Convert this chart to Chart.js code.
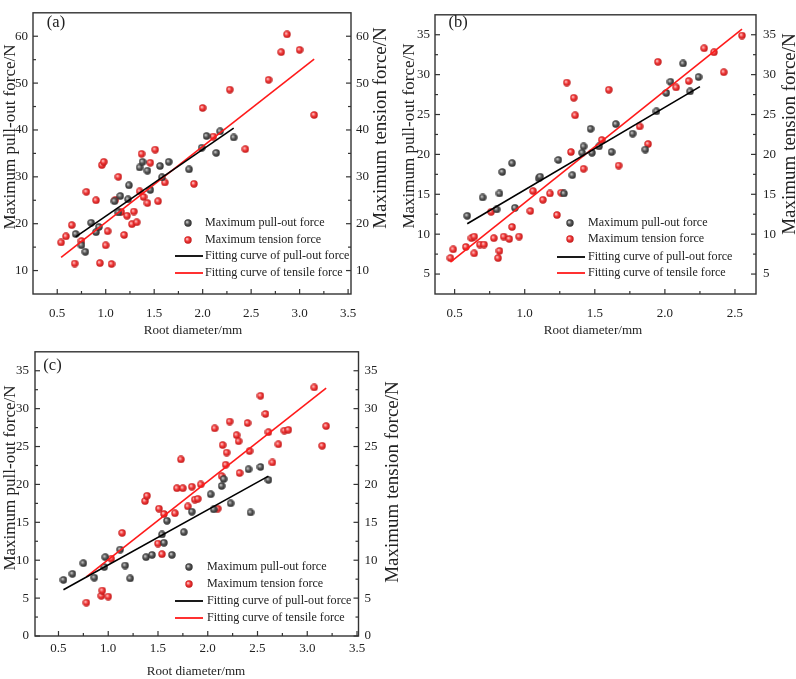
<!DOCTYPE html>
<html><head><meta charset="utf-8">
<script src="https://cdn.jsdelivr.net/npm/chart.js@4.4.0/dist/chart.umd.min.js"></script>
<style>
html,body{margin:0;padding:0;background:#fff;width:796px;height:679px;overflow:hidden}
canvas{position:absolute}
</style></head><body>
<canvas id="ca"></canvas>
<canvas id="cb"></canvas>
<canvas id="cc"></canvas>
<script>
// ---------- data ----------
const xTitle = 'Root diameter/mm';
const yTitleLeft = 'Maximum pull-out force/N';
const yTitleRight = 'Maximum tension force/N';
const legendLabels = ['Maximum pull-out force','Maximum tension force','Fitting curve of pull-out force','Fitting curve of tensile force'];

// panel (a)
const xTicksA = [0.5,1.0,1.5,2.0,2.5,3.0,3.5];
const yTicksA = [10,20,30,40,50,60];
const aPullD = [0.69,0.75,0.79,0.85,0.90,0.93,1.09,1.13,1.15,1.24,1.23,1.35,1.38,1.43,1.46,1.56,1.58,1.65,1.86,1.99,2.04,2.14,2.18,2.32];
const aPullF = [17.8,15.4,14.0,20.2,18.2,19.3,24.8,22.4,25.9,28.2,25.2,32.0,33.2,31.3,27.2,32.3,29.9,33.2,31.6,36.2,38.7,35.1,39.7,38.4];
const aTensD = [0.54,0.59,0.65,0.68,0.75,0.80,0.90,0.94,0.96,0.98,1.00,1.02,1.06,1.10,1.13,1.16,1.19,1.22,1.27,1.29,1.32,1.35,1.37,1.39,1.43,1.46,1.51,1.54,1.61,1.91,2.00,2.11,2.28,2.44,2.68,2.81,2.87,3.00,3.15];
const aTensF = [16.0,17.3,19.7,11.5,16.3,26.8,25.0,11.6,32.5,33.2,15.4,18.4,11.4,25.1,30.0,22.5,17.6,21.7,19.9,22.6,20.3,26.9,34.9,25.7,24.4,33.0,35.8,24.8,28.8,28.5,44.7,38.6,48.6,35.9,50.7,56.6,60.4,57.1,43.2];
const aFitPullD = [0.69,2.32], aFitPullF = [17.2,40.4];
const aFitTensD = [0.54,3.15], aFitTensF = [12.8,55.1];

// panel (b)
const xTicksB = [0.5,1.0,1.5,2.0,2.5];
const yTicksB = [5,10,15,20,25,30,35];
const bPullD = [0.59,0.70,0.80,0.82,0.84,0.91,0.93,1.10,1.11,1.24,1.28,1.34,1.41,1.42,1.47,1.48,1.53,1.62,1.65,1.77,1.86,1.94,2.01,2.04,2.13,2.18,2.24];
const bPullF = [12.3,14.6,13.1,15.1,17.8,18.9,13.3,17.0,17.2,19.3,15.1,17.4,20.2,21.0,23.2,20.2,21.0,20.3,23.8,22.6,20.6,25.4,27.7,29.1,31.4,27.9,29.7];
const bTensD = [0.47,0.49,0.58,0.62,0.64,0.64,0.68,0.71,0.76,0.78,0.81,0.82,0.85,0.89,0.91,0.96,1.04,1.06,1.13,1.18,1.23,1.26,1.30,1.33,1.35,1.36,1.42,1.55,1.60,1.67,1.82,1.88,1.95,2.08,2.17,2.28,2.35,2.42,2.55];
const bTensF = [7.0,8.1,8.4,9.5,9.7,7.6,8.7,8.7,12.8,9.5,7.0,7.9,9.7,9.4,10.9,9.7,12.9,15.4,14.3,15.1,12.4,15.2,29.0,20.3,27.1,24.9,18.2,21.8,28.1,18.6,23.5,21.3,31.6,28.4,29.2,33.3,32.8,30.3,34.9];
const bFitPullD = [0.59,2.25], bFitPullF = [11.3,28.5];
const bFitTensD = [0.47,2.55], bFitTensF = [6.5,35.7];

// panel (c)
const xTicksC = [0.5,1.0,1.5,2.0,2.5,3.0,3.5];
const yTicksC = [0,5,10,15,20,25,30,35];
const cPullD = [0.55,0.64,0.75,0.86,0.96,0.97,1.12,1.17,1.22,1.38,1.44,1.54,1.56,1.59,1.64,1.76,1.84,2.03,2.06,2.14,2.16,2.23,2.41,2.43,2.53,2.61];
const cPullF = [7.4,8.2,9.6,7.7,9.1,10.4,11.4,9.3,7.6,10.4,10.7,13.4,12.3,15.2,10.7,13.7,16.4,18.7,16.7,19.8,20.7,17.5,22.0,16.3,22.3,20.6];
const cTensD = [0.78,0.93,0.94,1.00,1.03,1.14,1.37,1.39,1.50,1.51,1.54,1.56,1.67,1.69,1.73,1.75,1.80,1.84,1.87,1.90,1.93,2.07,2.10,2.14,2.15,2.18,2.19,2.22,2.29,2.31,2.32,2.40,2.42,2.53,2.58,2.61,2.65,2.71,2.77,2.81,3.07,3.15,3.19];
const cTensF = [4.4,5.3,6.0,5.2,10.2,13.6,17.8,18.5,12.2,16.8,10.8,16.1,16.2,19.5,23.3,19.5,17.1,19.7,18.0,18.1,20.0,27.4,16.8,21.1,25.2,22.6,24.2,28.3,26.5,25.7,21.5,28.1,24.4,31.7,29.3,26.9,22.9,25.3,27.1,27.2,32.8,25.1,27.7];
const cFitPullD = [0.55,2.61], cFitPullF = [6.1,21.1];
const cFitTensD = [0.78,3.19], cFitTensF = [7.8,32.7];

// ---------- styling ----------
const FONT = '"Liberation Serif","Times New Roman",serif';
const TXT = '#222';
const AXIS = '#333';

function sphere(light, base, dark){
  const c = document.createElement('canvas'); c.width = 8; c.height = 8;
  const g = c.getContext('2d');
  const gr = g.createRadialGradient(2.9,2.9,0.2,4,4,4);
  gr.addColorStop(0, light); gr.addColorStop(0.45, base); gr.addColorStop(1, dark);
  g.fillStyle = gr; g.beginPath(); g.arc(4,4,3.7,0,Math.PI*2); g.fill();
  return c;
}
const graySphere = sphere('#d8d8d8','#595959','#262626');
const redSphere = sphere('#ffd4d4','#f23a3a','#b81212');

function pts(xs, ys){ return xs.map((x,i)=>({x, y:ys[i]})); }
function mids(t){ const m=[]; for(let i=0;i<t.length-1;i++) m.push((t[i]+t[i+1])/2); return m; }

function makePanel(P){
  const cv = document.getElementById(P.id);
  cv.width = P.w; cv.height = P.h;
  cv.style.left = P.left+'px'; cv.style.top = P.top+'px';
  const A = P.area;
  const tickFont = {family: FONT, size: 13};
  const decor = {
    id: 'decor_'+P.id,
    afterDraw(chart){
      const ctx = chart.ctx, a = chart.chartArea, s = chart.scales;
      ctx.save();
      ctx.strokeStyle = AXIS; ctx.lineWidth = 1.4;
      ctx.strokeRect(a.left, a.top, a.right-a.left, a.bottom-a.top);
      ctx.lineWidth = 1.2;
      const seg=(x0,y0,x1,y1)=>{ctx.beginPath();ctx.moveTo(x0,y0);ctx.lineTo(x1,y1);ctx.stroke();};
      P.xTicks.forEach(v=>{const x=s.x.getPixelForValue(v); seg(x,a.bottom,x,a.bottom-5);});
      mids(P.xTicks).forEach(v=>{const x=s.x.getPixelForValue(v); seg(x,a.bottom,x,a.bottom-3);});
      P.yTicks.forEach(v=>{const y=s.y.getPixelForValue(v); seg(a.left,y,a.left+5,y); const y1=s.y1.getPixelForValue(v); seg(a.right,y1,a.right-5,y1);});
      mids(P.yTicks).forEach(v=>{const y=s.y.getPixelForValue(v); seg(a.left,y,a.left+3,y); const y1=s.y1.getPixelForValue(v); seg(a.right,y1,a.right-3,y1);});
      ctx.fillStyle = TXT;
      // panel label
      ctx.font = '16.5px '+FONT; ctx.textAlign='center'; ctx.textBaseline='middle';
      ctx.fillText(P.tag, P.tagPos[0], P.tagPos[1]);
      // x title
      ctx.font = '13.1px '+FONT;
      ctx.fillText(xTitle, P.xt[0], P.xt[1]);
      // y titles (both read bottom-to-top)
      ctx.textBaseline='alphabetic';
      ctx.font = '17px '+FONT;
      ctx.save(); ctx.translate(P.ytl[0], P.ytl[1]); ctx.rotate(-Math.PI/2); ctx.fillText(yTitleLeft,0,0); ctx.restore();
      ctx.font = '19px '+FONT;
      ctx.save(); ctx.translate(P.ytr[0], P.ytr[1]); ctx.rotate(-Math.PI/2); ctx.fillText(yTitleRight,0,0); ctx.restore();
      // legend
      const L = P.leg;
      ctx.drawImage(graySphere, L.dot-4, L.rows[0]-4);
      ctx.drawImage(redSphere, L.dot-4, L.rows[1]-4);
      ctx.lineWidth = 1.8;
      ctx.strokeStyle = '#000'; seg(L.l0, L.rows[2], L.l1, L.rows[2]);
      ctx.strokeStyle = '#ff1a1a'; seg(L.l0, L.rows[3], L.l1, L.rows[3]);
      ctx.font = '12.1px '+FONT; ctx.textAlign='left'; ctx.textBaseline='middle'; ctx.fillStyle = TXT;
      legendLabels.forEach((t,i)=>ctx.fillText(t, L.tx, L.rows[i]));
      ctx.restore();
    }
  };
  const yScale = (pos, width, pad) => ({
    type:'linear', position: pos, min: P.yMin, max: P.yMax,
    afterFit: s=>{ s.width = width; },
    afterBuildTicks: s=>{ s.ticks = P.yTicks.map(v=>({value:v})); },
    ticks:{ padding: pad, font: tickFont, color: TXT, autoSkip:false, callback: v=>String(v) },
    grid:{ display:false, drawTicks:false }, border:{ display:false }
  });
  return new Chart(cv, {
    type:'scatter',
    data:{ datasets:[
      {label:legendLabels[2], data: pts(P.fitPull[0],P.fitPull[1]), showLine:true, borderColor:'#000', borderWidth:1.6, pointRadius:0, yAxisID:'y', order:0},
      {label:legendLabels[3], data: pts(P.fitTens[0],P.fitTens[1]), showLine:true, borderColor:'#ff1a1a', borderWidth:1.6, pointRadius:0, yAxisID:'y1', order:0},
      {label:legendLabels[0], data: pts(P.pull[0],P.pull[1]), pointStyle: graySphere, pointRadius:3.7, yAxisID:'y', order:1},
      {label:legendLabels[1], data: pts(P.tens[0],P.tens[1]), pointStyle: redSphere, pointRadius:3.7, yAxisID:'y1', order:1}
    ]},
    options:{
      responsive:false, animation:false, devicePixelRatio:1, events:[],
      layout:{ padding:{top:A.t, left:0, right:0, bottom:0}, autoPadding:false },
      plugins:{ legend:{display:false}, tooltip:{enabled:false} },
      scales:{
        x:{ type:'linear', position:'bottom', min:P.xMin, max:P.xMax,
            afterFit: s=>{ s.height = P.h - A.b; },
            afterBuildTicks: s=>{ s.ticks = P.xTicks.map(v=>({value:v})); },
            ticks:{ padding:P.xPad, font:tickFont, color:TXT, maxRotation:0, autoSkip:false, callback: v=>v.toFixed(1) },
            grid:{ display:false, drawTicks:false }, border:{ display:false } },
        y: yScale('left', A.l, P.ylPad),
        y1: yScale('right', P.w - A.r, P.yrPad)
      }
    },
    plugins:[decor]
  });
}

makePanel({id:'ca', left:0, top:0, w:398, h:340, area:{l:33, r:351, t:2.5, b:294},
  xMin:0.25, xMax:3.53, yMin:5, yMax:65, xTicks:xTicksA, yTicks:yTicksA,
  pull:[aPullD,aPullF], tens:[aTensD,aTensF], fitPull:[aFitPullD,aFitPullF], fitTens:[aFitTensD,aFitTensF],
  xPad:12, ylPad:5, yrPad:5, tag:'(a)', tagPos:[56,23], xt:[193,331],
  ytl:[15,137], ytr:[386,128],
  leg:{dot:188, l0:175, l1:203, tx:205, rows:[223,240,256,273]}});

makePanel({id:'cb', left:398, top:0, w:398, h:340, area:{l:37, r:358, t:2, b:294},
  xMin:0.36, xMax:2.65, yMin:2.5, yMax:37.5, xTicks:xTicksB, yTicks:yTicksB,
  pull:[bPullD,bPullF], tens:[bTensD,bTensF], fitPull:[bFitPullD,bFitPullF], fitTens:[bFitTensD,bFitTensF],
  xPad:12, ylPad:5, yrPad:7, tag:'(b)', tagPos:[60,23], xt:[195,331],
  ytl:[16,136], ytr:[397,134],
  leg:{dot:172, l0:159, l1:187, tx:190, rows:[223,239,257,273]}});

makePanel({id:'cc', left:0, top:338, w:400, h:341, area:{l:35, r:358.5, t:6, b:298},
  xMin:0.264, xMax:3.515, yMin:0, yMax:37.5, xTicks:xTicksC, yTicks:yTicksC,
  pull:[cPullD,cPullF], tens:[cTensD,cTensF], fitPull:[cFitPullD,cFitPullF], fitTens:[cFitTensD,cFitTensF],
  xPad:5, ylPad:6, yrPad:6, tag:'(c)', tagPos:[52.5,28], xt:[196,334],
  ytl:[15,140], ytr:[398,144],
  leg:{dot:189, l0:175, l1:203, tx:207, rows:[229,246,263,280]}});
</script>
</body></html>
